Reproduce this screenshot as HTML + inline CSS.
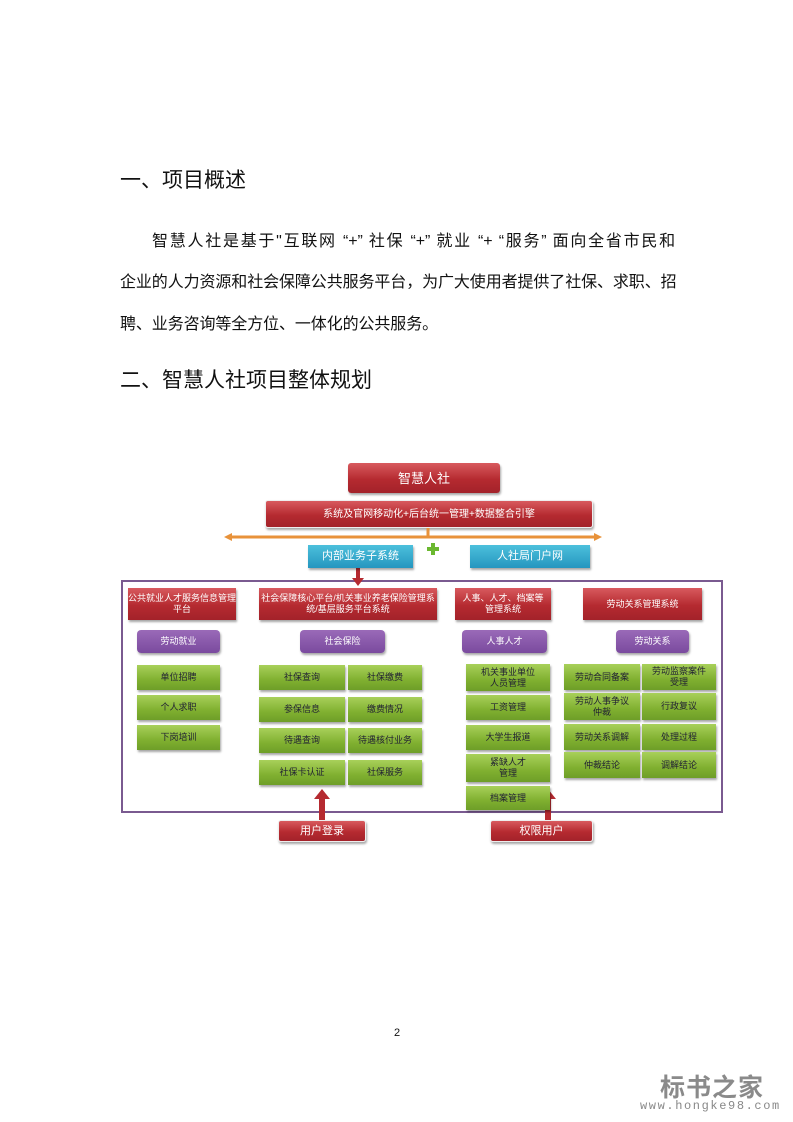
<!DOCTYPE html>
<html><head><meta charset="utf-8"><style>
body{margin:0;width:793px;height:1122px;background:#fff;position:relative;overflow:hidden;font-family:"Liberation Sans","Noto Sans CJK SC",sans-serif;color:#111}
.a{position:absolute;white-space:nowrap}
.h{font-size:21px;font-family:"Liberation Sans","Noto Sans CJK SC",sans-serif}
.p{font-size:16px;letter-spacing:-0.1px}
.j{text-align:justify;text-align-last:justify;white-space:normal}
.b{position:absolute;display:flex;align-items:center;justify-content:center;text-align:center;font-size:9px;line-height:11px;box-sizing:border-box;box-shadow:1px 2px 2px rgba(0,0,0,.35)}
.r{background:linear-gradient(#d85a5e,#b52a30 55%,#a3222a);color:#fff}
.pu{background:linear-gradient(#9a6ab8,#7a4a9e);color:#fff;border-radius:4px}
.g{background:linear-gradient(#a8d05a,#80b030 60%,#6e9e28);color:#223}
.c{background:linear-gradient(#4cc0dc,#2596bf);color:#fff}
</style></head><body>
<div class="a h" style="left:120px;top:164px">一、项目概述</div>
<div class="a p j" style="left:152px;top:227px;width:523px">智慧人社是基于"互联网 “+” 社保 “+” 就业 “+ “服务” 面向全省市民和</div>
<div class="a p" style="left:120px;top:268px">企业的人力资源和社会保障公共服务平台，为广大使用者提供了社保、求职、招</div>
<div class="a p" style="left:120px;top:310px">聘、业务咨询等全方位、一体化的公共服务。</div>
<div class="a h" style="left:120px;top:364px">二、智慧人社项目整体规划</div>

<div class="b r" style="left:348px;top:463px;width:152px;height:30px;font-size:13px;border-radius:3px">智慧人社</div>
<div class="b r" style="left:265px;top:500px;width:328px;height:28px;font-size:10px;border-radius:3px;border:1px solid #eee">系统及官网移动化+后台统一管理+数据整合引擎</div>
<svg class="a" style="left:0;top:0" width="793" height="1122">
<line x1="230" y1="537" x2="596" y2="537" stroke="#e8923a" stroke-width="3"/>
<polygon points="224,537 232,533 232,541" fill="#e8923a"/>
<polygon points="602,537 594,533 594,541" fill="#e8923a"/>
<line x1="428" y1="528" x2="428" y2="537" stroke="#e8923a" stroke-width="3"/>
<rect x="427" y="547" width="12" height="4" fill="#6bb830"/><rect x="431" y="543" width="4" height="12" fill="#6bb830"/>
<rect x="122" y="581" width="600" height="231" fill="none" stroke="#7a5a90" stroke-width="2"/>
<line x1="358" y1="568" x2="358" y2="580" stroke="#b52a30" stroke-width="4"/>
<polygon points="352,578 364,578 358,586" fill="#b52a30"/>
<rect x="319" y="798" width="6" height="22" fill="#b52a30"/><polygon points="314,799 330,799 322,789" fill="#b52a30"/>
<rect x="545" y="798" width="6" height="22" fill="#b52a30"/><polygon points="540,799 556,799 548,789" fill="#b52a30"/>
</svg>
<div class="b c" style="left:308px;top:545px;width:105px;height:23px;font-size:11px">内部业务子系统</div>
<div class="b c" style="left:470px;top:545px;width:120px;height:23px;font-size:11px">人社局门户网</div>

<div class="b r" style="left:128px;top:588px;width:108px;height:32px">公共就业人才服务信息管理平台</div>
<div class="b r" style="left:259px;top:588px;width:178px;height:32px">社会保障核心平台/机关事业养老保险管理系统/基层服务平台系统</div>
<div class="b r" style="left:455px;top:588px;width:96px;height:32px">人事、人才、档案等<br>管理系统</div>
<div class="b r" style="left:583px;top:588px;width:119px;height:32px">劳动关系管理系统</div>

<div class="b pu" style="left:137px;top:630px;width:83px;height:23px">劳动就业</div>
<div class="b pu" style="left:300px;top:630px;width:85px;height:23px">社会保险</div>
<div class="b pu" style="left:462px;top:630px;width:85px;height:23px">人事人才</div>
<div class="b pu" style="left:616px;top:630px;width:73px;height:23px">劳动关系</div>

<div class="b g" style="left:137px;top:665px;width:83px;height:25px">单位招聘</div>
<div class="b g" style="left:137px;top:695px;width:83px;height:25px">个人求职</div>
<div class="b g" style="left:137px;top:725px;width:83px;height:25px">下岗培训</div>

<div class="b g" style="left:259px;top:665px;width:86px;height:25px">社保查询</div>
<div class="b g" style="left:259px;top:697px;width:86px;height:25px">参保信息</div>
<div class="b g" style="left:259px;top:728px;width:86px;height:25px">待遇查询</div>
<div class="b g" style="left:259px;top:760px;width:86px;height:25px">社保卡认证</div>
<div class="b g" style="left:348px;top:665px;width:74px;height:25px">社保缴费</div>
<div class="b g" style="left:348px;top:697px;width:74px;height:25px">缴费情况</div>
<div class="b g" style="left:348px;top:728px;width:74px;height:25px">待遇核付业务</div>
<div class="b g" style="left:348px;top:760px;width:74px;height:25px">社保服务</div>

<div class="b g" style="left:466px;top:664px;width:84px;height:27px">机关事业单位<br>人员管理</div>
<div class="b g" style="left:466px;top:695px;width:84px;height:25px">工资管理</div>
<div class="b g" style="left:466px;top:725px;width:84px;height:25px">大学生报道</div>
<div class="b g" style="left:466px;top:754px;width:84px;height:28px">紧缺人才<br>管理</div>
<div class="b g" style="left:466px;top:786px;width:84px;height:24px">档案管理</div>

<div class="b g" style="left:564px;top:664px;width:76px;height:26px">劳动合同备案</div>
<div class="b g" style="left:564px;top:693px;width:76px;height:27px">劳动人事争议<br>仲裁</div>
<div class="b g" style="left:564px;top:724px;width:76px;height:26px">劳动关系调解</div>
<div class="b g" style="left:564px;top:752px;width:76px;height:26px">仲裁结论</div>
<div class="b g" style="left:642px;top:664px;width:74px;height:26px">劳动监察案件<br>受理</div>
<div class="b g" style="left:642px;top:693px;width:74px;height:27px">行政复议</div>
<div class="b g" style="left:642px;top:724px;width:74px;height:26px">处理过程</div>
<div class="b g" style="left:642px;top:752px;width:74px;height:26px">调解结论</div>

<div class="b r" style="left:278px;top:820px;width:88px;height:22px;font-size:11px;border-radius:3px;border:1px solid #eee">用户登录</div>
<div class="b r" style="left:490px;top:820px;width:103px;height:22px;font-size:11px;border-radius:3px;border:1px solid #eee">权限用户</div>

<div class="a" style="left:394px;top:1027px;font-size:11px">2</div>
<div class="a" style="left:660px;top:1068px;font-size:25px;font-weight:bold;color:#8a8a8a;letter-spacing:1px">标书之家</div>
<div class="a" style="left:640px;top:1099px;font-size:12px;color:#888;letter-spacing:1.6px;font-family:'Liberation Mono',monospace">www.hongke98.com</div>
</body></html>
